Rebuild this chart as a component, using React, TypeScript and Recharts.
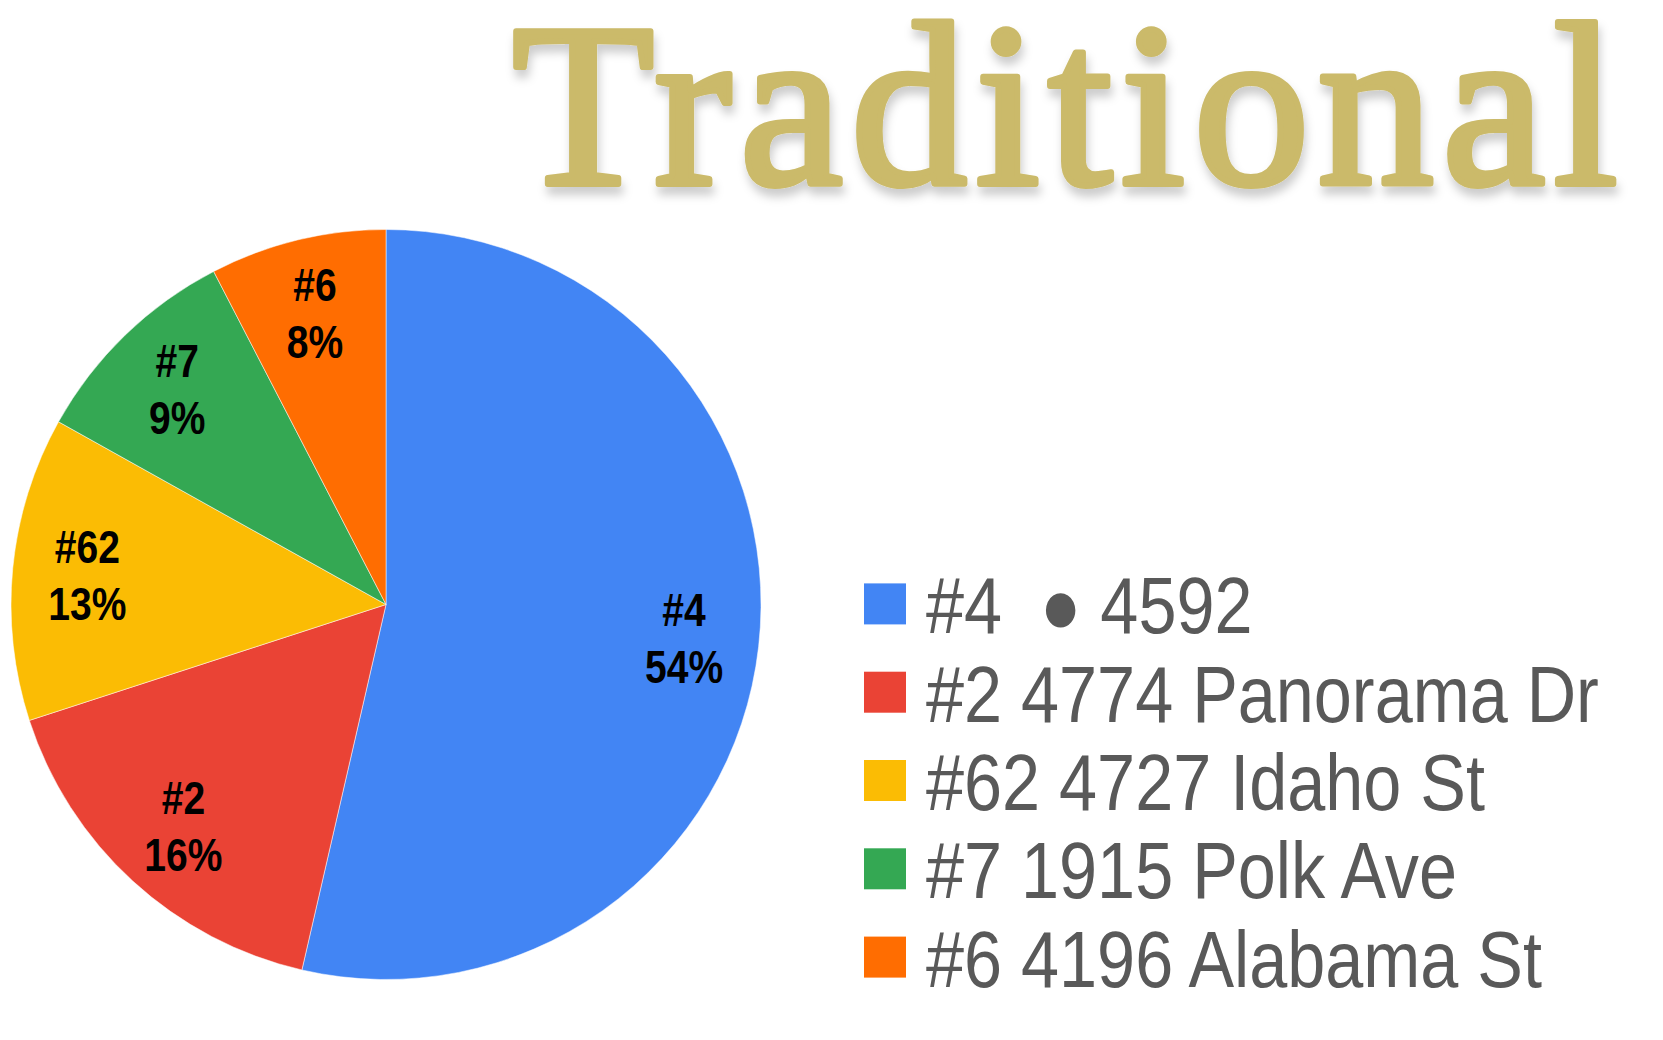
import React from 'react';
import { PieChart, Pie, Cell, Legend } from 'recharts';

const titleText = 'Traditional';
const shortNames = ['#4', '#2', '#62', '#7', '#6'];
const legendNames = ['#4 \u00A0\u25CF 4592', '#2 4774 Panorama Dr', '#62 4727 Idaho St', '#7 1915 Polk Ave', '#6 4196 Alabama St'];
const values = [53.6, 16.4, 13.1, 9.3, 7.6];
const colors = ['#4285F4', '#EA4335', '#FBBC04', '#34A853', '#FF6D01'];

const data = legendNames.map((name, i) => ({ name, short: shortNames[i], value: values[i] }));

const RADIAN = Math.PI / 180;
const sansFont = "'Liberation Sans', Arial, sans-serif";

// labels: two lines, bold, squeezed to look like a condensed face
const renderLabel = (props: any) => {
  const { cx, cy, midAngle, outerRadius, percent, index } = props;
  const r = outerRadius * 0.8;
  const x = cx + r * Math.cos(-midAngle * RADIAN);
  const y = cy + r * Math.sin(-midAngle * RADIAN);
  return (
    <text
      x={x}
      textAnchor="middle"
      fill="#000"
      fontFamily={sansFont}
      fontWeight="bold"
      fontSize={47}
      transform={`translate(${x} 0) scale(0.83 1) translate(${-x} 0)`}
    >
      <tspan x={x} y={y - 12}>{shortNames[index]}</tspan>
      <tspan x={x} y={y + 45}>{Math.round(percent * 100)}%</tspan>
    </text>
  );
};

const renderLegend = (props: any) => {
  const payload = [...(props.payload || [])].sort(
    (a: any, b: any) => legendNames.indexOf(a.value) - legendNames.indexOf(b.value)
  );
  return (
    <svg width={790} height={460}>
      {payload.map((entry: any, i: number) => (
        <g key={`leg-${i}`} transform={`translate(0, ${23.4 + i * 88.3})`}>
          <rect x={0} y={0} width={42} height={41} fill={entry.color} />
          <text
            x={62}
            y={50}
            fill="#595959"
            fontFamily={sansFont}
            fontSize={80}
            transform="translate(62 0) scale(0.855 1) translate(-62 0)"
            style={{ whiteSpace: 'pre' }}
          >
            {entry.value}
          </text>
        </g>
      ))}
    </svg>
  );
};

export default function App() {
  return (
    <div style={{ position: 'absolute', left: 0, top: 0, width: 1663, height: 1040, background: '#fff' }}>
      <svg width={1663} height={280} style={{ position: 'absolute', left: 0, top: 0 }}>
        <defs>
          <filter id="titleShadow" x="-5%" y="-20%" width="110%" height="150%">
            <feDropShadow dx={2} dy={8} stdDeviation={5} floodColor="#000" floodOpacity={0.2} />
          </filter>
        </defs>
        <text
          x={512}
          y={184}
          fill="#CBBA6A"
          stroke="#CBBA6A"
          strokeWidth={6}
          strokeLinejoin="round"
          fontFamily="'Liberation Serif', 'Times New Roman', serif"
          fontSize={233}
          textLength={1106}
          lengthAdjust="spacing"
          filter="url(#titleShadow)"
        >
          {titleText}
        </text>
      </svg>
      <PieChart
        width={1663}
        height={1040}
        margin={{ top: 0, right: 0, bottom: 0, left: 0 }}
        style={{ position: 'absolute', left: 0, top: 0 }}
      >
        <Pie
          data={data}
          dataKey="value"
          nameKey="name"
          cx={386}
          cy={604.5}
          outerRadius={375}
          startAngle={90}
          endAngle={-270}
          stroke="rgba(255,255,255,0.5)"
          strokeWidth={1}
          label={renderLabel}
          labelLine={false}
          isAnimationActive={false}
        >
          {data.map((entry, index) => (
            <Cell key={`cell-${index}`} fill={colors[index]} />
          ))}
        </Pie>
        <Legend
          layout="vertical"
          content={renderLegend}
          wrapperStyle={{ position: 'absolute', left: 864, top: 560, width: 790, height: 460 }}
        />
      </PieChart>
    </div>
  );
}
